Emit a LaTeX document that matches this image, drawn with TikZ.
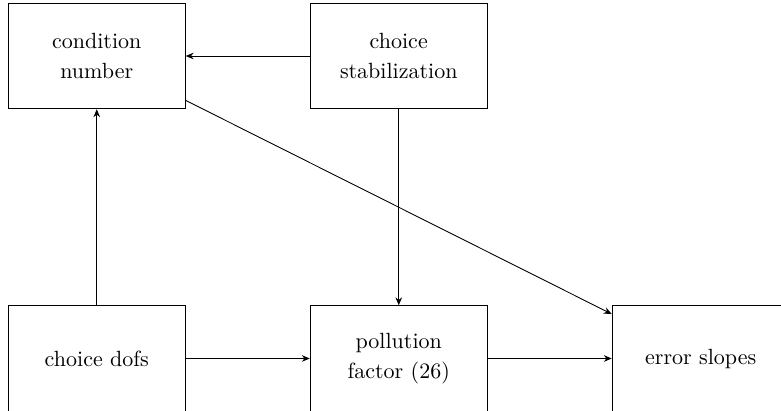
\documentclass[tikz,border=0pt]{standalone}
\usepackage{amsmath}
\usetikzlibrary{arrows.meta}
\usetikzlibrary{positioning}

\tikzset{
    blocco/.style={draw, minimum width=80.5pt, minimum height=48pt, align=center,
        font=\fontsize{10}{13.7}\selectfont},
    freccia/.style={-{Stealth[length=3.6pt,width=3pt]}}
}

\begin{document}
\begin{tikzpicture}[x=0.4545pt, y=-0.4545pt]
\useasboundingbox (0, 0) rectangle (781, 411);
\clip (0, 0) rectangle (781, 411);

% riga in alto
\node[blocco] (cond) at (96.75, 56) {condition\\number};
\node[blocco] (stab) at (398.75, 56) {choice\\stabilization};

% riga in basso
\node[blocco] (dofs) at (96.75, 358.5) {choice dofs};
\node[blocco] (poll) at (398.75, 358.5) {pollution\\factor (26)};
\node[blocco] (err) at (700.75, 358.5) {error slopes};

% frecce
\draw[freccia] (stab) -- (cond);
\draw[freccia] (dofs) -- (cond);
\draw[freccia] (stab) -- (poll);
\draw[freccia] (cond) -- (err);
\draw[freccia] (dofs) -- (poll);
\draw[freccia] (poll) -- (err);
\end{tikzpicture}
\end{document}
